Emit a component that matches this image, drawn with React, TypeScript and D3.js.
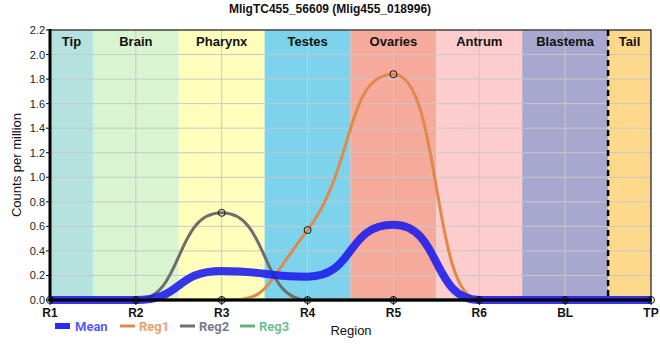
import React from "react";
import * as d3 from "d3";

const categories = ["R1", "R2", "R3", "R4", "R5", "R6", "BL", "TP"];
const reg1 = [0, 0, 0, 0.57, 1.84, 0, 0, 0];
const reg2 = [0, 0, 0.71, 0, 0, 0, 0, 0];
const reg3 = [0, 0, 0, 0, 0, 0, 0, 0];
const meanVals = [0, 0, 0.237, 0.19, 0.613, 0, 0, 0];
const yTicks = [0, 0.2, 0.4, 0.6, 0.8, 1.0, 1.2, 1.4, 1.6, 1.8, 2.0, 2.2];
const bands = ["Tip", "Brain", "Pharynx", "Testes", "Ovaries", "Antrum", "Blastema", "Tail"];
const bandColors = ["#b4e3df", "#d9f5d0", "#ffffbb", "#7dd3eb", "#f5aa9b", "#fdcccc", "#a8a8ce", "#ffd98b"];
const title = "MligTC455_56609 (Mlig455_018996)";

const W = 660, H = 360;
const L = 50, R = 651, T = 30, B = 300;
const FONT = "'Liberation Sans', Arial, sans-serif";

// Highcharts-style spline through scaled points (longer handles)
function splinePath(pts: [number, number][]): string {
  const p = d3.path();
  const sm = 0.8, den = sm + 1;
  const rc: ([number, number] | null)[] = pts.map(() => null);
  const lc: ([number, number] | null)[] = pts.map(() => null);
  for (let i = 1; i < pts.length - 1; i++) {
    const [px, py] = pts[i];
    const [lx, ly] = pts[i - 1];
    const [nx, ny] = pts[i + 1];
    const lcx = (sm * px + lx) / den;
    let lcy = (sm * py + ly) / den;
    const rcx = (sm * px + nx) / den;
    let rcy = (sm * py + ny) / den;
    let corr = 0;
    if (rcx !== lcx) corr = ((rcy - lcy) * (rcx - px)) / (rcx - lcx) + py - rcy;
    lcy += corr;
    rcy += corr;
    if (lcy > ly && lcy > py) {
      lcy = Math.max(ly, py);
      rcy = 2 * py - lcy;
    } else if (lcy < ly && lcy < py) {
      lcy = Math.min(ly, py);
      rcy = 2 * py - lcy;
    }
    if (rcy > ny && rcy > py) {
      rcy = Math.max(ny, py);
      lcy = 2 * py - rcy;
    } else if (rcy < ny && rcy < py) {
      rcy = Math.min(ny, py);
      lcy = 2 * py - rcy;
    }
    lc[i] = [lcx, lcy];
    rc[i] = [rcx, rcy];
  }
  pts.forEach(([px, py], i) => {
    if (i === 0) {
      p.moveTo(px, py);
      return;
    }
    const a = rc[i - 1] || pts[i - 1];
    const b = lc[i] || pts[i];
    p.bezierCurveTo(a[0], a[1], b[0], b[1], px, py);
  });
  return p.toString();
}

export default function App() {
  const x = d3.scalePoint<string>().domain(categories).range([L, R]);
  const y = d3.scaleLinear().domain([0, 2.2]).range([B, T]);
  const step = x.step();
  const toPts = (vals: number[]) =>
    vals.map((v, i) => [x(categories[i]) as number, y(v)] as [number, number]);

  const series = [
    { name: "Reg3", vals: reg3, color: "#5fb37a" },
    { name: "Reg1", vals: reg1, color: "#e0894a" },
    { name: "Reg2", vals: reg2, color: "#6e6e6e" },
  ];

  return (
    <svg width={W} height={H} style={{ position: "absolute", left: 0, top: 0, background: "#fff" }}>
      <text x={330} y={13} textAnchor="middle" fontFamily={FONT} fontWeight="bold" fontSize={12} fill="#111">
        {title}
      </text>
      {bands.map((b, i) => {
        const x0 = Math.max(L, L + (i - 0.5) * step);
        const x1 = Math.min(R, L + (i + 0.5) * step);
        return <rect key={b} x={x0} y={T} width={x1 - x0} height={B - T} fill={bandColors[i]} />;
      })}
      {yTicks.map((t) => (
        <line key={"g" + t} x1={L} x2={R} y1={y(t)} y2={y(t)} stroke="#c8c8c8" strokeWidth={1} />
      ))}
      {categories.map((c) => (
        <line key={"v" + c} x1={x(c)} x2={x(c)} y1={T} y2={B} stroke="#c8c8c8" strokeWidth={1} />
      ))}
      {bands.map((b, i) => {
        const x0 = Math.max(L, L + (i - 0.5) * step);
        const x1 = Math.min(R, L + (i + 0.5) * step);
        return (
          <text key={"t" + b} x={(x0 + x1) / 2} y={46} textAnchor="middle" fontFamily={FONT} fontWeight="bold" fontSize={13} fill="#111">
            {b}
          </text>
        );
      })}
      <line x1={L + 6.5 * step} x2={L + 6.5 * step} y1={T} y2={B} stroke="#000" strokeWidth={2.5} strokeDasharray="6,4" />
      {series.map((s) => (
        <path key={s.name} d={splinePath(toPts(s.vals))} fill="none" stroke={s.color} strokeWidth={3} />
      ))}
      <path d={splinePath(toPts(meanVals))} fill="none" stroke="#1a1aee" strokeOpacity={0.88} strokeWidth={8} />
      {series.map((s) =>
        s.vals.map((v, i) =>
          v > 0 ? (
            <circle key={s.name + i} cx={x(categories[i])} cy={y(v)} r={3.5} fill="none" stroke="#111" strokeWidth={1} />
          ) : null
        )
      )}
      <rect x={L} y={T} width={R - L} height={B - T} fill="none" stroke="#000" strokeWidth={1} />
      <line x1={L} x2={L} y1={T - 1} y2={B + 1.5} stroke="#000" strokeWidth={3} />
      <line x1={L - 1.5} x2={R + 1} y1={B} y2={B} stroke="#000" strokeWidth={3} />
      {categories.map((c) => (
        <g key={"m" + c}>
          <circle cx={x(c)} cy={B} r={3.5} fill="none" stroke="#111" strokeWidth={1} />
          <line x1={x(c)} x2={x(c)} y1={B - 4} y2={B + 5} stroke="#111" strokeWidth={1} />
        </g>
      ))}
      {yTicks.map((t) => (
        <g key={"yt" + t}>
          <line x1={L - 4} x2={L} y1={y(t)} y2={y(t)} stroke="#000" strokeWidth={1} />
          <text x={L - 5} y={y(t) + 4} textAnchor="end" fontFamily={FONT} fontSize={11} fill="#222">
            {t.toFixed(1)}
          </text>
        </g>
      ))}
      {categories.map((c) => (
        <text key={"xt" + c} x={x(c)} y={317} textAnchor="middle" fontFamily={FONT} fontWeight="bold" fontSize={12} fill="#111">
          {c}
        </text>
      ))}
      <text transform={`translate(21,165) rotate(-90)`} textAnchor="middle" fontFamily={FONT} fontSize={13} fill="#111">
        Counts per million
      </text>
      <text x={351} y={335} textAnchor="middle" fontFamily={FONT} fontSize={13} fill="#111">
        Region
      </text>
      <g fontFamily="Roboto, sans-serif" fontWeight="bold" fontSize={13}>
        <rect x={55} y={323} width={15} height={6} fill="#2a2aff" />
        <text x={75} y={331} fill="#5a5aff">Mean</text>
        <line x1={120} x2={135} y1={326} y2={326} stroke="#e0894a" strokeWidth={3} />
        <text x={139} y={331} fill="#eba070">Reg1</text>
        <line x1={180} x2={195} y1={326} y2={326} stroke="#6e6e6e" strokeWidth={3} />
        <text x={199} y={331} fill="#7a7a92">Reg2</text>
        <line x1={240} x2={255} y1={326} y2={326} stroke="#5fb37a" strokeWidth={3} />
        <text x={259} y={331} fill="#6fbf8f">Reg3</text>
      </g>
    </svg>
  );
}
